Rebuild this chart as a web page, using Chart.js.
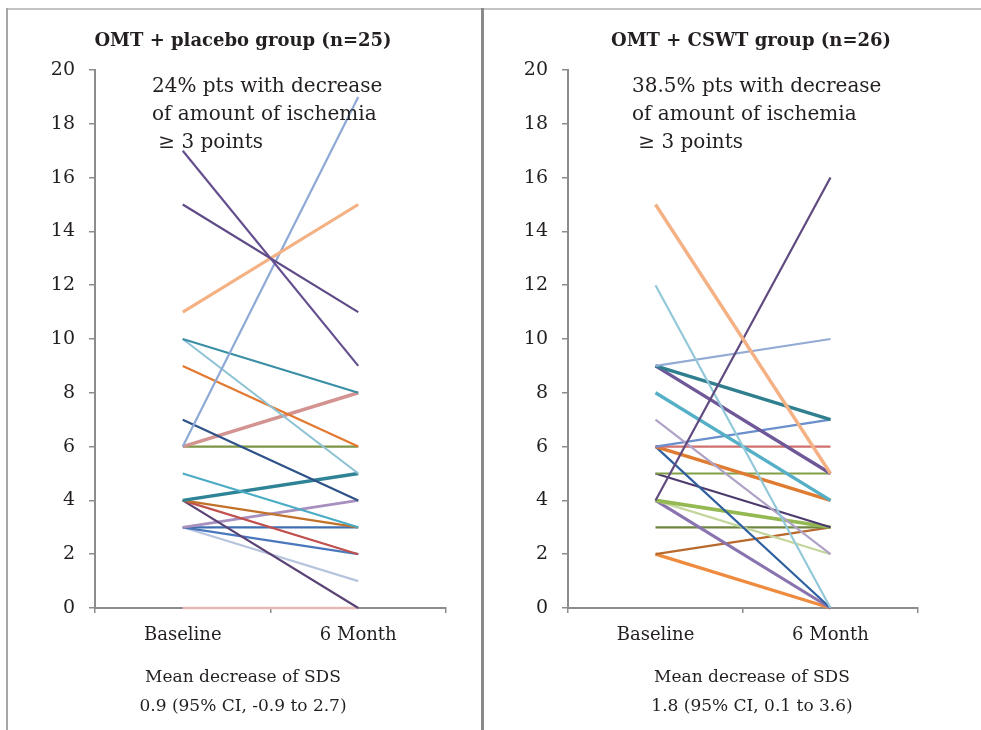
<!DOCTYPE html>
<html><head><meta charset="utf-8">
<script src="https://cdn.jsdelivr.net/npm/chart.js@4.4.1/dist/chart.umd.min.js"></script>
<style>
html,body{margin:0;padding:0;background:#fff;}
#wrap{position:relative;width:981px;height:730px;overflow:hidden;background:#fff;}
canvas{position:absolute;left:0;top:0;}
.rule{position:absolute;}
</style></head><body>
<div id="wrap">
<div class="rule" style="left:7px;top:8px;width:974px;height:2px;background:#c4c4c4"></div>
<div class="rule" style="left:6px;top:8px;width:2px;height:722px;background:#a6a6a6"></div>
<div class="rule" style="left:481px;top:8px;width:3px;height:722px;background:#8a8a8a"></div>
<canvas id="c1" width="981" height="730"></canvas>
<canvas id="c2" width="981" height="730"></canvas>
</div>
<script>
// ---- data ----
const categories = ['Baseline', '6 Month'];
const yTickValues = [0, 2, 4, 6, 8, 10, 12, 14, 16, 18, 20];

const placeboTitle = 'OMT + placebo group (n=25)';
const placeboNote = ['24% pts with decrease', 'of amount of ischemia', ' \u2265 3 points'];
const placeboFooter = ['Mean decrease of SDS', '0.9 (95% CI, -0.9 to 2.7)'];
const placeboBaseline = [17, 15, 11, 6, 10, 10, 9, 7, 6, 6, 5, 4, 4, 4, 4, 3, 3, 3, 3, 0];
const placeboMonth6   = [ 9, 11, 15, 19, 8, 5, 6, 4, 8, 6, 3, 5, 3, 2, 0, 4, 3, 2, 1, 0];

const cswtTitle = 'OMT + CSWT group (n=26)';
const cswtNote = ['38.5% pts with decrease', 'of amount of ischemia', ' \u2265 3 points'];
const cswtFooter = ['Mean decrease of SDS', '1.8 (95% CI, 0.1 to 3.6)'];
const cswtBaseline = [15, 4, 12, 9, 9, 9, 8, 7, 6, 6, 6, 6, 5, 5, 4, 4, 4, 3, 2, 2];
const cswtMonth6   = [ 5, 16, 0, 10, 7, 5, 4, 2, 7, 6, 4, 0, 5, 3, 3, 2, 0, 3, 3, 0];

// ---- styles ----
const placeboColors = ['#65508F', '#5E4A87', '#F4B183', '#8EA9D6', '#3A8EA6', '#8FC3D4', '#E3782F', '#2E5288',
  '#D39391', '#7D9444', '#4AACC4', '#2F8396', '#C0722A', '#C0504D', '#5A4374', '#A890BE', '#3F6FB0', '#4A78BC', '#B7C4DE', '#E6B9B8'];
const placeboWidths = [2.2, 2.2, 3.2, 2.2, 2.2, 2.2, 2.2, 2.2, 3.6, 2.2, 2.2, 3.4, 2.2, 2.2, 2.2, 2.8, 2.2, 2.2, 2.2, 2.5];
const cswtColors = ['#F4B183', '#5F4A80', '#93C8D8', '#94ABD4', '#2F7F8F', '#6F5898', '#55AFC6', '#B0A2C6', '#6A8FCC', '#D0706E',
  '#E07B32', '#2E5F9E', '#80A048', '#4D3B6E', '#94B852', '#C3D69B', '#8A74B0', '#6E8640', '#B8692E', '#EE8B3E'];
const cswtWidths = [3.4, 2.2, 2.2, 2.2, 3.4, 3.4, 3.4, 2.2, 2.2, 2.2, 3.4, 2.2, 2.2, 2.2, 3.6, 2.2, 3.2, 2.2, 2.2, 3.4];

const serif = '"DejaVu Serif"';
const panelText = {
  id: 'panelText',
  afterDraw(chart, args, o) {
    const ctx = chart.ctx;
    ctx.save();
    ctx.fillStyle = '#231f20';
    ctx.textBaseline = 'middle';
    ctx.font = 'bold 18px ' + serif;
    ctx.textAlign = 'center';
    ctx.fillText(o.title, o.titleX, o.titleY);
    ctx.font = '20px ' + serif;
    ctx.textAlign = 'left';
    o.note.forEach((t, i) => ctx.fillText(t, o.noteX, o.noteY + i * 28));
    ctx.font = '17px ' + serif;
    ctx.textAlign = 'center';
    o.footer.forEach((t, i) => ctx.fillText(t, o.footX, o.footY + i * 29));
    ctx.restore();
  }
};

const axisGray = '#8c8c8c';
const yAxisW = 80;

function makeChart(id, base, month, colors, widths, txt, area) {
  return new Chart(document.getElementById(id), {
    type: 'line',
    data: {
      labels: categories,
      datasets: base.map((b, i) => ({
        data: [b, month[i]],
        borderColor: colors[i],
        borderWidth: widths[i],
        pointRadius: 0, pointHoverRadius: 0,
        tension: 0, fill: false, clip: false
      }))
    },
    options: {
      responsive: false, animation: false, events: [],
      layout: { padding: { left: area.left - yAxisW, right: 981 - area.right, top: area.top, bottom: 730 - area.bottom - 40 } },
      plugins: { legend: { display: false }, tooltip: { enabled: false }, panelText: txt },
      scales: {
        x: {
          offset: true,
          grid: { offset: true, drawOnChartArea: false, drawTicks: true, tickLength: 5, color: axisGray, lineWidth: 1.5 },
          border: { display: true, color: axisGray, width: 2 },
          ticks: { padding: 12, color: '#231f20', font: { family: 'DejaVu Serif', size: 18 } },
          afterFit(s) { s.height = 40; }
        },
        y: {
          min: 0, max: 20,
          afterBuildTicks(s) { s.ticks = yTickValues.map(v => ({ value: v })); },
          grid: { drawOnChartArea: false, drawTicks: true, tickLength: 6, color: axisGray, lineWidth: 1.5 },
          border: { display: true, color: axisGray, width: 2 },
          ticks: { padding: 14, color: '#231f20', font: { family: 'DejaVu Serif', size: 19 } },
          afterFit(s) { s.width = yAxisW; }
        }
      }
    },
    plugins: [panelText]
  });
}

makeChart('c1', placeboBaseline, placeboMonth6, placeboColors, placeboWidths,
  { title: placeboTitle, titleX: 243, titleY: 41, note: placeboNote, noteX: 152, noteY: 87, footer: placeboFooter, footX: 243, footY: 678 },
  { left: 95, right: 446, top: 70, bottom: 608 });
makeChart('c2', cswtBaseline, cswtMonth6, cswtColors, cswtWidths,
  { title: cswtTitle, titleX: 751, titleY: 41, note: cswtNote, noteX: 632, noteY: 87, footer: cswtFooter, footX: 752, footY: 678 },
  { left: 568, right: 918, top: 70, bottom: 608 });
</script>
</body></html>
